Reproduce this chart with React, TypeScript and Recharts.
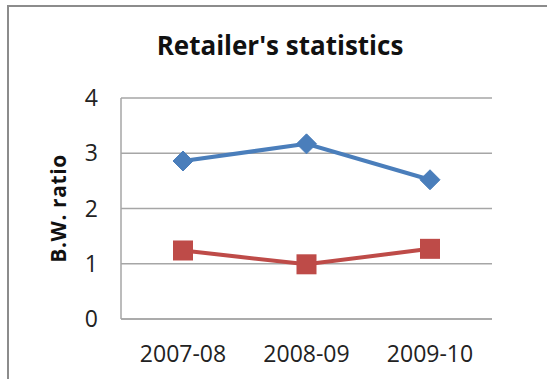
import { CartesianGrid, Label, Line, LineChart, XAxis, YAxis } from "recharts";

const YEARS = ["2007-08", "2008-09", "2009-10"];
const BLUE_SERIES = [2.86, 3.17, 2.52];
const RED_SERIES = [1.24, 0.99, 1.27];
const Y_TICKS = [0, 1, 2, 3, 4];

const BLUE = "#4a7ebb";
const RED = "#be4b48";
const FONT = "'Open Sans', 'Liberation Sans', sans-serif";

const data = YEARS.map((year, i) => ({ year, blue: BLUE_SERIES[i], red: RED_SERIES[i] }));

const Diamond = (props: any) => {
    const { cx, cy } = props;
    if (cx == null || cy == null) return null;
    const r = 10;
    return (
        <path
            d={`M${cx},${cy - r} L${cx + r},${cy} L${cx},${cy + r} L${cx - r},${cy} Z`}
            fill={BLUE}
            stroke={BLUE}
            strokeWidth={1}
        />
    );
};

const Square = (props: any) => {
    const { cx, cy } = props;
    if (cx == null || cy == null) return null;
    const s = 10;
    return <rect x={cx - s} y={cy - s} width={s * 2} height={s * 2} fill={RED} />;
};

const YTitle = (props: any) => {
    const { viewBox } = props;
    const cy = viewBox.y + viewBox.height / 2;
    const cx = 58;
    return (
        <text
            x={cx}
            y={cy}
            transform={`rotate(-90, ${cx}, ${cy})`}
            textAnchor="middle"
            dominantBaseline="central"
            fontFamily={FONT}
            fontWeight={700}
            fontSize={21}
            letterSpacing={0.6}
            fill="#111"
        >
            B.W. ratio
        </text>
    );
};

export default function App() {
    return (
        <div
            style={{
                position: "absolute",
                left: 0,
                top: 0,
                width: 547,
                height: 379,
                background: "#fff",
                overflow: "hidden",
            }}
        >
            <div
                style={{
                    position: "absolute",
                    left: 7,
                    top: 5,
                    width: 560,
                    height: 400,
                    borderTop: "2px solid #8c8c8c",
                    borderLeft: "2px solid #8c8c8c",
                }}
            />
            <div
                style={{
                    position: "absolute",
                    left: 0,
                    width: 560,
                    top: 28,
                    textAlign: "center",
                    fontFamily: FONT,
                    fontWeight: 700,
                    fontSize: 26,
                    color: "#111",
                    lineHeight: "35px",
                }}
            >
                Retailer's statistics
            </div>
            <LineChart
                width={547}
                height={379}
                data={data}
                margin={{ top: 98, right: 55, bottom: 29, left: 0 }}
                style={{ position: "absolute", left: 0, top: 0 }}
            >
                <CartesianGrid vertical={false} stroke="#a6a6a6" strokeWidth={1.5} />
                <XAxis
                    dataKey="year"
                    height={31}
                    padding={{ left: 62, right: 62 }}
                    axisLine={{ stroke: "#a6a6a6", strokeWidth: 1.5 }}
                    tickLine={false}
                    tickSize={0}
                    tickMargin={27}
                    tick={{ fontFamily: FONT, fontSize: 23, fill: "#222" }}
                />
                <YAxis
                    width={121}
                    domain={[0, 4]}
                    ticks={Y_TICKS}
                    axisLine={{ stroke: "#a6a6a6", strokeWidth: 1.5 }}
                    tickLine={false}
                    tickSize={0}
                    tickMargin={23}
                    tick={{ fontFamily: FONT, fontSize: 23, fill: "#222" }}
                >
                    <Label content={<YTitle />} />
                </YAxis>
                <Line
                    dataKey="blue"
                    stroke={BLUE}
                    strokeWidth={4}
                    dot={<Diamond />}
                    activeDot={false}
                    isAnimationActive={false}
                />
                <Line
                    dataKey="red"
                    stroke={RED}
                    strokeWidth={4}
                    dot={<Square />}
                    activeDot={false}
                    isAnimationActive={false}
                />
            </LineChart>
        </div>
    );
}
